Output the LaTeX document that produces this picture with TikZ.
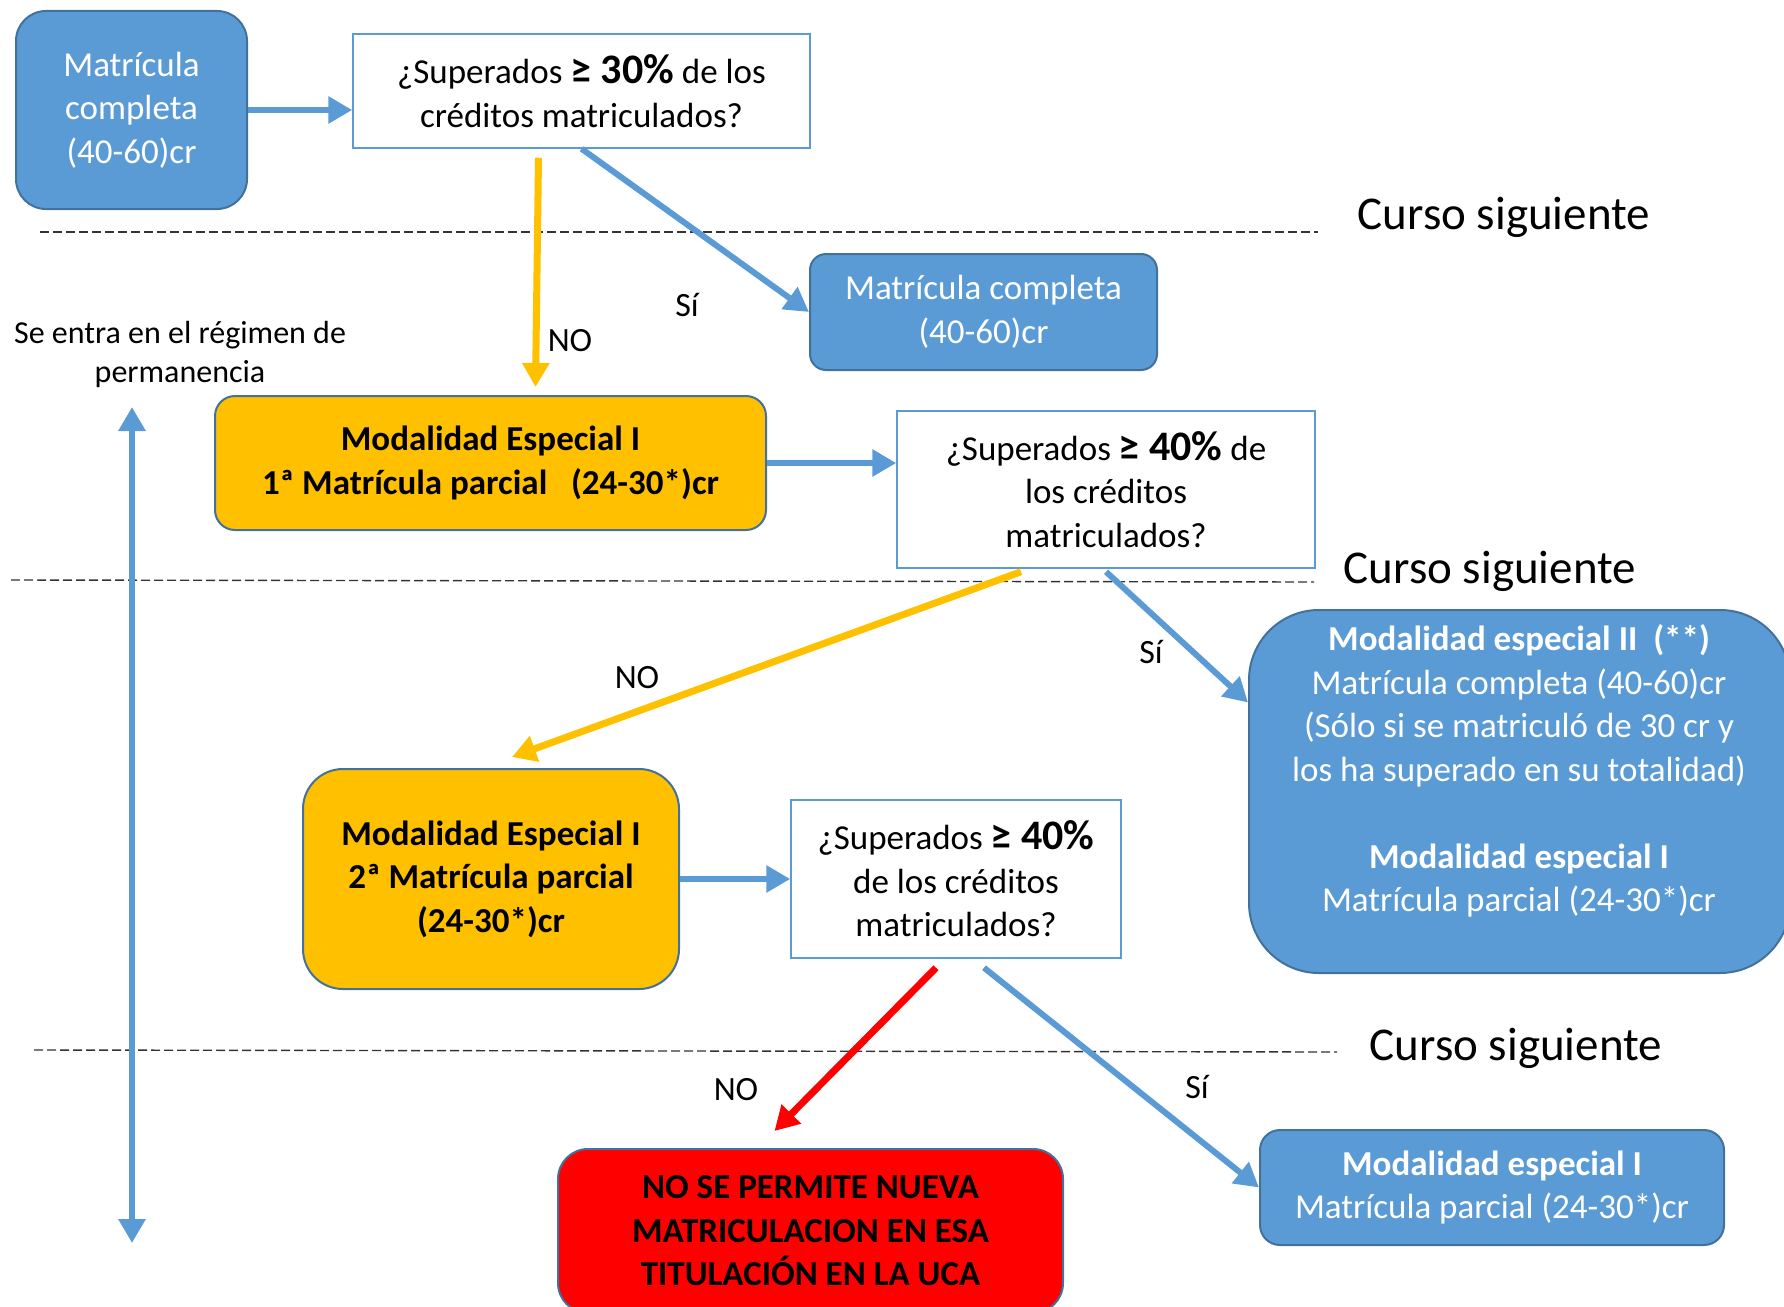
\documentclass[tikz,border=0pt]{standalone}
\usepackage{fontspec}
\setmainfont{Carlito}
\usetikzlibrary{arrows.meta}
\definecolor{boxblue}{HTML}{5B9BD5}
\definecolor{edgeblue}{HTML}{41719C}
\definecolor{boxyellow}{HTML}{FFC000}
\definecolor{boxred}{HTML}{FF0000}

\begin{document}
\begin{tikzpicture}[x=1pt,y=-1pt,>={Triangle[length=24pt,width=26pt]},
                    font=\fontsize{35}{43.5}\selectfont,
                    blue node/.style={rectangle,rounded corners=30pt,draw=edgeblue,line width=2pt,fill=boxblue,text=white,align=center,inner sep=0pt},
                    yellow node/.style={blue node,fill=boxyellow,text=black,font=\fontsize{35}{43.5}\selectfont\bfseries},
                    red node/.style={blue node,fill=boxred,text=black,font=\fontsize{35}{43.5}\selectfont\bfseries},
                    question/.style={rectangle,draw=boxblue,line width=1.5pt,fill=white,align=center,inner sep=0pt},
                    blue arrow/.style={->,draw=boxblue,line width=6pt},
                    yellow arrow/.style={->,draw=boxyellow,line width=7pt},
                    red arrow/.style={->,draw=boxred,line width=7pt},
                    year line/.style={draw=black!80,line width=1.4pt,dash pattern=on 9pt off 4pt},
                    year label/.style={font=\fontsize{47}{55}\selectfont},
                    small label/.style={font=\fontsize{32}{39}\selectfont,align=center},
                    answer/.style={font=\fontsize{34}{40}\selectfont}]
  \useasboundingbox (0,0) rectangle (1784,1306);
  \clip (0,0) rectangle (1784,1306);

  % boxes
  \node[blue node,minimum width=231pt,minimum height=198pt] (full1) at (131.5,110) {Matrícula\\completa\\(40-60)cr};
  \node[question,minimum width=457pt,minimum height=114pt] (q1) at (581.5,91)
    {¿Superados {\fontsize{42}{43.5}\selectfont\bfseries ≥ 30\%} de los\\créditos matriculados?};
  \node[blue node,rounded corners=16pt,minimum width=347pt,minimum height=116pt] (full2) at (983.5,312) {Matrícula completa\\(40-60)cr};
  \node[yellow node,rounded corners=20pt,minimum width=551pt,minimum height=134pt] (part1) at (490.5,463)
    {Modalidad Especial I\\1ª Matrícula parcial\ \ \ (24-30*)cr};
  \node[question,minimum width=418pt,minimum height=157pt] (q2) at (1106,489.5)
    {¿Superados {\fontsize{42}{43.5}\selectfont\bfseries ≥ 40\%} de\\los créditos\\matriculados?};
  \node[blue node,rounded corners=70pt,minimum width=541pt,minimum height=363pt] (esp2) at (1519.5,791.5) {};
  \node[text=white,align=center] (esp2text) at (1519,771)
    {\textbf{Modalidad especial II\ \ (**)}\\Matrícula completa (40-60)cr\\(Sólo si se matriculó de 30 cr y\\los ha superado en su totalidad)\\[43.5pt]
     \textbf{Modalidad especial I}\\Matrícula parcial (24-30*)cr};
  \node[yellow node,rounded corners=40pt,minimum width=376pt,minimum height=220pt] (part2) at (491,879)
    {Modalidad Especial I\\2ª Matrícula parcial\\(24-30*)cr};
  \node[question,minimum width=330pt,minimum height=158pt] (q3) at (956,879)
    {¿Superados {\fontsize{42}{43.5}\selectfont\bfseries ≥ 40\%}\\de los créditos\\matriculados?};
  \node[red node,rounded corners=30pt,minimum width=505pt,minimum height=164pt] (stop) at (810.5,1231)
    {NO SE PERMITE NUEVA\\MATRICULACION EN ESA\\TITULACIÓN EN LA UCA};
  \node[blue node,rounded corners=20pt,minimum width=464pt,minimum height=115pt] (esp1) at (1492,1187.5)
    {\textbf{Modalidad especial I}\\Matrícula parcial (24-30*)cr};

  % course separators
  \draw[year line] (40,232) -- (1318,232);
  \draw[year line] (11,580) -- (1314,582);
  \draw[year line] (34,1050) -- (1337,1052);
  \node[year label] (year1) at (1504,217) {Curso siguiente};
  \node[year label] (year2) at (1490,571) {Curso siguiente};
  \node[year label] (year3) at (1516,1048) {Curso siguiente};

  % permanence regime
  \node[small label] (regime) at (180,354) {Se entra en el régimen de\\permanencia};
  \coordinate (regtop) at (132,407);
  \coordinate (regbot) at (132,1243);
  \draw[blue arrow,<->] (regtop) -- (regbot);

  % connectors
  \path (full1.east) edge[blue arrow] (full1.east -| q1.west)
        (q1.south) edge[blue arrow] (full2.west)
        ([xshift=-43pt,yshift=-9pt]q1.south) edge[yellow arrow] ([xshift=45pt,yshift=8pt]part1.north)
        (part1.east) edge[blue arrow] (part1.east -| q2.west)
        ([xshift=-85pt,yshift=-3pt]q2.south) edge[yellow arrow] ([xshift=21pt,yshift=11pt]part2.north)
        ([yshift=-3pt]q2.south) edge[blue arrow] ([yshift=89pt]esp2.west)
        (part2.east) edge[blue arrow] (part2.east -| q3.west)
        ([xshift=-20pt,yshift=-9pt]q3.south) edge[red arrow] ([xshift=-36pt,yshift=17pt]stop.north)
        ([xshift=28pt,yshift=-9pt]q3.south) edge[blue arrow] (esp1.west);

  \node[answer] (no1) at (570,341) {NO};
  \node[answer] (si1) at (687,305) {Sí};
  \node[answer] (no2) at (637,678) {NO};
  \node[answer] (si2) at (1151,652) {Sí};
  \node[answer] (no3) at (736,1090) {NO};
  \node[answer] (si3) at (1197,1087) {Sí};
\end{tikzpicture}
\end{document}
